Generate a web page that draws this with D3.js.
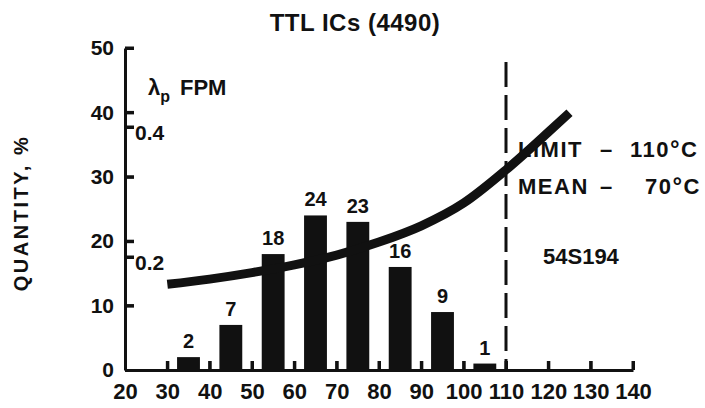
<!DOCTYPE html>
<html><head><meta charset="utf-8">
<script src="https://cdn.jsdelivr.net/npm/d3@7"></script>
<style>
html,body{margin:0;padding:0;background:#fff;}
svg{display:block;background:#fff;}
</style></head><body>
<svg id="chart" width="705" height="408"></svg>
<script>
// ---- data ----
const titleText = "TTL ICs (4490)";
const binCenters = [35, 45, 55, 65, 75, 85, 95, 105];   // junction temperature, °C
const quantities = [2, 7, 18, 24, 23, 16, 9, 1];        // quantity, %
const xTicks = [20, 30, 40, 50, 60, 70, 80, 90, 100, 110, 120, 130, 140];
const yTicks = [0, 10, 20, 30, 40, 50];
const lambdaTicks = [0.2, 0.4];
const curveTemps  = [30, 40, 50, 60, 70, 80, 90, 100, 110, 120, 125];
const curveLambda = [0.158, 0.166, 0.176, 0.188, 0.203, 0.223, 0.248, 0.283, 0.334, 0.392, 0.422];
const limitTemp = 110;
const yLabel = "QUANTITY, %";
const notes = {limit: ["LIMIT", "–", "110", "°", "C"], mean: ["MEAN", "–", "70", "°", "C"], part: "54S194"};

const FONT = '"Liberation Sans",Arial,sans-serif';
const INK = "#111";

// ---- scales ----
const svg = d3.select("#chart");
const x = d3.scaleLinear().domain([20, 140]).range([125, 633]);
const y = d3.scaleLinear().domain([0, 50]).range([370, 48]);
const lam = d3.scaleLinear().domain([0.2, 0.4]).range([257, 127]);
const halfBar = 2.7;

// axes
const gx = svg.append("g").attr("transform", `translate(0,${y(0)})`)
  .call(d3.axisBottom(x).tickValues(xTicks).tickSizeInner(-9).tickSizeOuter(0).tickPadding(13).tickFormat(d3.format("d")));
const gy = svg.append("g").attr("transform", `translate(${x(20)},0)`)
  .call(d3.axisLeft(y).tickValues(yTicks).tickSizeInner(-9).tickSizeOuter(0).tickPadding(11));
const gl = svg.append("g").attr("transform", `translate(${x(20)},0)`)
  .call(d3.axisRight(lam).tickValues(lambdaTicks).tickSizeInner(9).tickSizeOuter(0).tickPadding(1).tickFormat(d3.format(".1f")));
gl.select(".domain").remove();
[gx, gy, gl].forEach((g) => {
  g.selectAll(".domain").attr("stroke", INK).attr("stroke-width", 3);
  g.selectAll(".tick line").attr("stroke", INK).attr("stroke-width", 3);
  g.selectAll("text").style("font-family", FONT).style("font-weight", "bold").style("fill", INK);
});
gx.selectAll("text").style("font-size", "22px");
gy.selectAll("text").style("font-size", "21px");
gl.selectAll("text").style("font-size", "21px").attr("dy", "0.6em");

// explicit inner tick marks (reinforce axis ticks)
const tk = svg.append("g").attr("stroke", INK).attr("stroke-width", 3);
tk.selectAll("line.xt").data(xTicks.slice(1)).join("line").attr("class", "xt")
  .attr("x1", (d) => x(d)).attr("x2", (d) => x(d)).attr("y1", y(0)).attr("y2", y(0) - 9);
tk.selectAll("line.yt").data(yTicks.slice(1)).join("line").attr("class", "yt")
  .attr("x1", x(20)).attr("x2", x(20) + 9).attr("y1", (d) => y(d)).attr("y2", (d) => y(d));
tk.selectAll("line.lt").data(lambdaTicks).join("line").attr("class", "lt")
  .attr("x1", x(20)).attr("x2", x(20) + 9).attr("y1", (d) => lam(d)).attr("y2", (d) => lam(d));

function txt(sel, size) {
  return sel.style("font-family", FONT).style("font-weight", "bold").style("font-size", size + "px").style("fill", INK);
}

// title
txt(svg.append("text").attr("x", 355).attr("y", 31).attr("text-anchor", "middle"), 24)
  .style("letter-spacing", "0.5px").text(titleText);

// y label
txt(svg.append("text").attr("transform", "translate(28,213) rotate(-90)").attr("text-anchor", "middle"), 20)
  .style("letter-spacing", "2.5px").text(yLabel);

// bars
svg.append("g").selectAll("rect").data(binCenters).join("rect")
  .attr("x", (d) => x(d - halfBar))
  .attr("width", (d) => x(d + halfBar) - x(d - halfBar))
  .attr("y", (d, i) => y(quantities[i]))
  .attr("height", (d, i) => y(0) - y(quantities[i]))
  .attr("fill", INK);

// bar labels
txt(svg.append("g").selectAll("text").data(binCenters).join("text")
  .attr("x", (d) => x(d)).attr("y", (d, i) => y(quantities[i]) - 9)
  .attr("text-anchor", "middle"), 20)
  .text((d, i) => quantities[i]);

// limit dashed line
svg.append("path").attr("d", d3.line()([[x(limitTemp), 62], [x(limitTemp), y(0)]]))
  .attr("stroke", INK).attr("stroke-width", 3).attr("stroke-dasharray", "25,8");

// λp FPM label
const lt = txt(svg.append("text").attr("x", 148).attr("y", 95), 22);
lt.append("tspan").text("λ");
lt.append("tspan").attr("dy", 7).style("font-size", "16px").text("p");
lt.append("tspan").attr("x", 180).attr("dy", -7).text("FPM");

// notes at right
function note(parts, yy, xs) {
  const t = txt(svg.append("text").attr("y", yy), 22).style("letter-spacing", "1.5px");
  parts.forEach((p, i) => {
    const s = t.append("tspan").text(p);
    if (xs[i] != null) s.attr("x", xs[i]);
    if (p === "°") s.style("font-size", "24px");
  });
}
note(notes.limit, 157, [518, 600, 630, null, null]);
note(notes.mean, 194, [518, 600, 645, null, null]);
txt(svg.append("text").attr("x", 543).attr("y", 264), 22).text(notes.part);

// lambda curve
const lambdaLine = d3.line().x((d) => x(d)).y((d, i) => lam(curveLambda[i])).curve(d3.curveMonotoneX);
svg.append("path").datum(curveTemps).attr("d", lambdaLine)
  .attr("fill", "none").attr("stroke", INK).attr("stroke-width", 9);
</script>
</body></html>
